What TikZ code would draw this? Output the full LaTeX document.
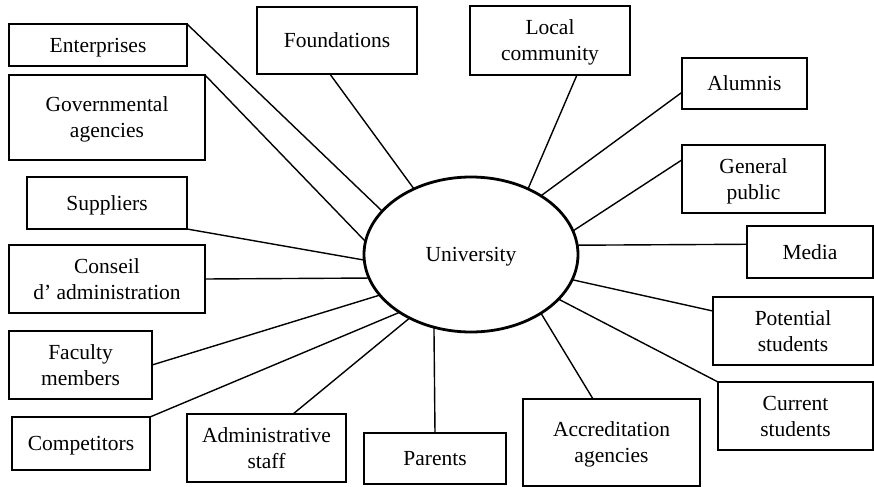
\documentclass[tikz,border=0pt]{standalone}
\usepackage{fontspec}
\setmainfont{Liberation Serif}
\usetikzlibrary{shapes.geometric}
\tikzset{
    stake/.style={draw, line width=0.75pt, align=center, inner sep=0pt, outer sep=0pt,
        text depth=0pt, font=\fontsize{10.75}{13}\selectfont},
    link/.style={line width=0.7pt}
}
\begin{document}
\begin{tikzpicture}[x=0.5pt, y=-0.5pt]
    \useasboundingbox (0,0) rectangle (874,487);

            %%the university
            \node[draw, ellipse, line width=1.4pt, minimum width=107pt, minimum height=77.5pt,
                inner sep=0pt, outer sep=0pt, text depth=0pt, font=\fontsize{10.75}{13}\selectfont] (uni) at (471,254.5){University};

            %%left side
            \node[stake, minimum width=89pt, minimum height=21pt] (enterprises) at (98,45){Enterprises};
            \node[stake, minimum width=98pt, minimum height=42.5pt] (governmental) at (107,117.5){Governmental\\agencies};
            \node[stake, minimum width=80pt, minimum height=26pt] (suppliers) at (107,203){Suppliers};
            \node[stake, minimum width=98pt, minimum height=34pt] (conseil) at (107,279){Conseil\\d' administration};
            \node[stake, minimum width=71.5pt, minimum height=34pt] (faculty) at (80.5,365){Faculty\\members};
            \node[stake, minimum width=69pt, minimum height=26.5pt] (competitors) at (81,443.5){Competitors};

            %%top
            \node[stake, minimum width=80pt, minimum height=33.5pt] (foundations) at (337,40.5){Foundations};
            \node[stake, minimum width=80pt, minimum height=34.5pt] (local) at (550,40.5){Local\\community};

            %%bottom
            \node[stake, minimum width=79.5pt, minimum height=34pt] (admin) at (266.5,448){Administrative\\staff};
            \node[stake, minimum width=71pt, minimum height=25.5pt] (parents) at (435,458.5){Parents};
            \node[stake, minimum width=88.5pt, minimum height=43.5pt] (accreditation) at (611.5,442.5){Accreditation\\agencies};

            %%right side
            \node[stake, minimum width=62.5pt, minimum height=25.5pt] (alumnis) at (744.5,83.5){Alumnis};
            \node[stake, minimum width=71.5pt, minimum height=34pt] (general) at (753.5,179){General\\public};
            \node[stake, minimum width=63pt, minimum height=26pt] (media) at (810,252){Media};
            \node[stake, minimum width=80pt, minimum height=34pt] (potential) at (793,331){Potential\\students};
            \node[stake, minimum width=77.5pt, minimum height=34pt] (current) at (795.5,416){Current\\students};

            %%the links
            \draw[link] (enterprises.north east) -- (uni.154.4);
            \draw[link] (governmental.north east) -- (uni.173.9);
            \draw[link] (foundations.258.2) -- (uni.131.1);
            \draw[link] (suppliers.south east) -- (uni.183.9);
            \draw[link] (conseil.east) -- (uni.193.5);
            \draw[link] (faculty.east) -- (uni.204.6);
            \draw[link] (competitors.north east) -- (uni.219.6);
            \draw[link] (admin.52.1) -- (uni.226.6);
            \draw[link] (parents.north) -- (uni.243.7);
            \draw[link] (accreditation.113) -- (uni.320);
            \draw[link] (current.north west) -- (uni.333.9);
            \draw[link] (potential.166.6) -- (uni.346.5);
            \draw[link] (media.173.7) -- (uni.5.1);
            \draw[link] (general.165.9) -- (uni.13.5);
            \draw[link] (alumnis.188.6) -- (uni.40.8);
            \draw[link] (local.308) -- (uni.49.9);
\end{tikzpicture}
\end{document}
